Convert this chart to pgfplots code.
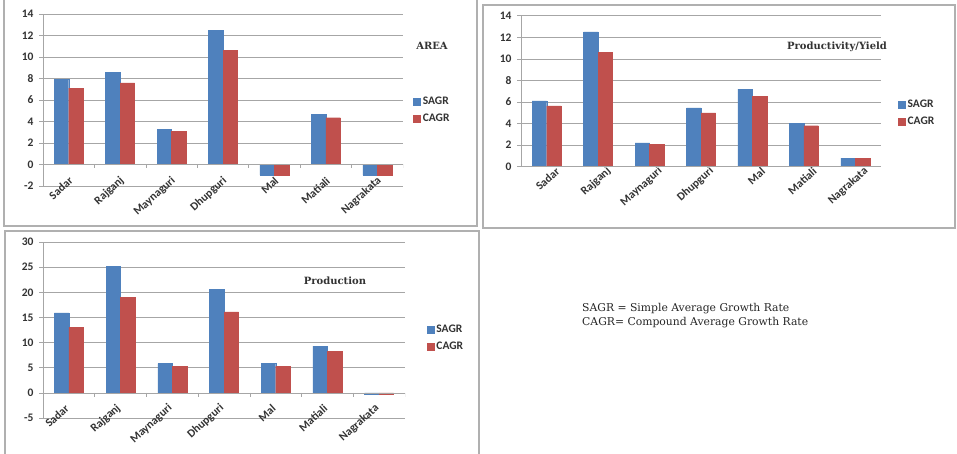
\documentclass[border=0pt]{standalone}
\usepackage{pgfplots}
\pgfplotsset{compat=1.18}
\usepackage{fontspec}
\setmainfont{Carlito}
\newfontfamily\serifttl{DejaVu Serif}
\definecolor{sagr}{HTML}{4F81BD}
\definecolor{cagr}{HTML}{C0504D}
\definecolor{gridc}{HTML}{A6A6A6}
\definecolor{framec}{HTML}{B0B0B0}

\pgfplotstableread{
x sagr cagr
0 7.9 7.1
1 8.55 7.6
2 3.25 3.1
3 12.45 10.6
4 -1.0 -1.0
5 4.65 4.35
6 -1.0 -1.0
}\areadata
\pgfplotstableread{
x sagr cagr
0 6.1 5.65
1 12.5 10.6
2 2.2 2.1
3 5.45 5.0
4 7.2 6.5
5 4.0 3.8
6 0.8 0.8
}\yielddata
\pgfplotstableread{
x sagr cagr
0 15.9 13.0
1 25.1 19.0
2 5.8 5.3
3 20.6 16.1
4 5.8 5.3
5 9.3 8.2
6 -0.2 -0.2
}\proddata

\pgfplotsset{
  sq legend/.style={legend image code/.code={\draw[##1] (0pt,-3.5pt) rectangle (7pt,3.5pt);}},
  mybar/.style={
    scale only axis, width=360pt,
    ybar=0pt, bar width=14.5pt,
    xmin=-0.5, xmax=6.5, xtick={0,...,6},
    xticklabels={Sadar,Rajganj,Maynaguri,Dhupguri,Mal,Matiali,Nagrakata},
    axis lines*=left,
    x axis line style={draw=none},
    y axis line style={gridc, line width=0.6pt},
    x tick style={draw=none},
    y tick style={gridc, line width=0.6pt},
    tick align=outside, major tick length=4pt,
    xticklabel style={rotate=42, anchor=east, font=\bfseries\fontsize{11.5}{13}\selectfont, text=black!80, inner sep=1pt, xshift=10pt, yshift=6.5pt},
    yticklabel style={font=\bfseries\fontsize{11.5}{13}\selectfont, text=black!80, xshift=-2pt},
    /pgf/number format/assume math mode=true,
    ymajorgrids, grid style={gridc, line width=0.6pt},
    legend style={draw=none, fill=none, font=\bfseries\fontsize{11.5}{13}\selectfont, text=black!80,
      row sep=4pt, cells={anchor=west}},
    legend cell align=left,
  },
}

\newcommand{\zeroline}{%
  \draw[gridc, line width=0.6pt] (axis cs:-0.5,0) -- (axis cs:6.5,0);
  \pgfplotsinvokeforeach{0.5,1.5,2.5,3.5,4.5,5.5,6.5}{\draw[gridc, line width=0.6pt] (axis cs:##1,0) -- ++(0pt,-4pt);}
}

\begin{document}
\begin{tikzpicture}[x=1pt,y=1pt]
\useasboundingbox (0,0) rectangle (957,454);
\clip (0,0) rectangle (957,454);
\fill[white] (0,0) rectangle (957,454);
% frames
\draw[framec, line width=1.2pt] (4,228) rectangle (477,470);
\draw[framec, line width=1.2pt] (483,226) rectangle (955,449);
\draw[framec, line width=1.2pt] (5,-10) rectangle (479,223);

% AREA
\begin{axis}[mybar, at={(43pt,268pt)}, anchor=south west, height=172pt,
  ymin=-2, ymax=14, ytick={-2,0,...,14},
  legend style={at={(1.02,0.54)}, anchor=north west}]
\addplot[fill=sagr, draw=sagr, sq legend] table[x=x, y=sagr] {\areadata};
\addplot[fill=cagr, draw=cagr, sq legend] table[x=x, y=cagr] {\areadata};
\legend{SAGR,CAGR}
\zeroline
\end{axis}

% Productivity / Yield
\begin{axis}[mybar, at={(521pt,287.3pt)}, anchor=south west, height=151pt,
  ymin=0, ymax=14, ytick={0,2,...,14},
  xticklabel style={yshift=-13pt},
  legend style={at={(1.039,0.47)}, anchor=north west}]
\addplot[fill=sagr, draw=sagr, sq legend] table[x=x, y=sagr] {\yielddata};
\addplot[fill=cagr, draw=cagr, sq legend] table[x=x, y=cagr] {\yielddata};
\legend{SAGR,CAGR}
\zeroline
\end{axis}

% Production
\begin{axis}[mybar, at={(43pt,36pt)}, anchor=south west, width=362pt, height=176pt,
  ymin=-5, ymax=30, ytick={-5,0,...,30},
  xticklabel style={yshift=6pt},
  legend style={at={(1.052,0.55)}, anchor=north west}]
\addplot[fill=sagr, draw=sagr, sq legend] table[x=x, y=sagr] {\proddata};
\addplot[fill=cagr, draw=cagr, sq legend] table[x=x, y=cagr] {\proddata};
\legend{SAGR,CAGR}
\zeroline
\end{axis}

% titles
\node[font=\serifttl\bfseries\fontsize{10}{12}\selectfont, text=black!80] at (432,408) {AREA};
\node[font=\serifttl\bfseries\fontsize{10}{12}\selectfont, text=black!80] at (837,407) {Productivity/Yield};
\node[font=\serifttl\bfseries\fontsize{10}{12}\selectfont, text=black!80] at (335,173) {Production};
\node[font=\serifttl\fontsize{10.8}{13.5}\selectfont, text=black!85, anchor=west, align=left, inner sep=0pt] at (582,138.5)
  {SAGR = Simple Average Growth Rate\\CAGR= Compound Average Growth Rate};
\end{tikzpicture}
\end{document}
